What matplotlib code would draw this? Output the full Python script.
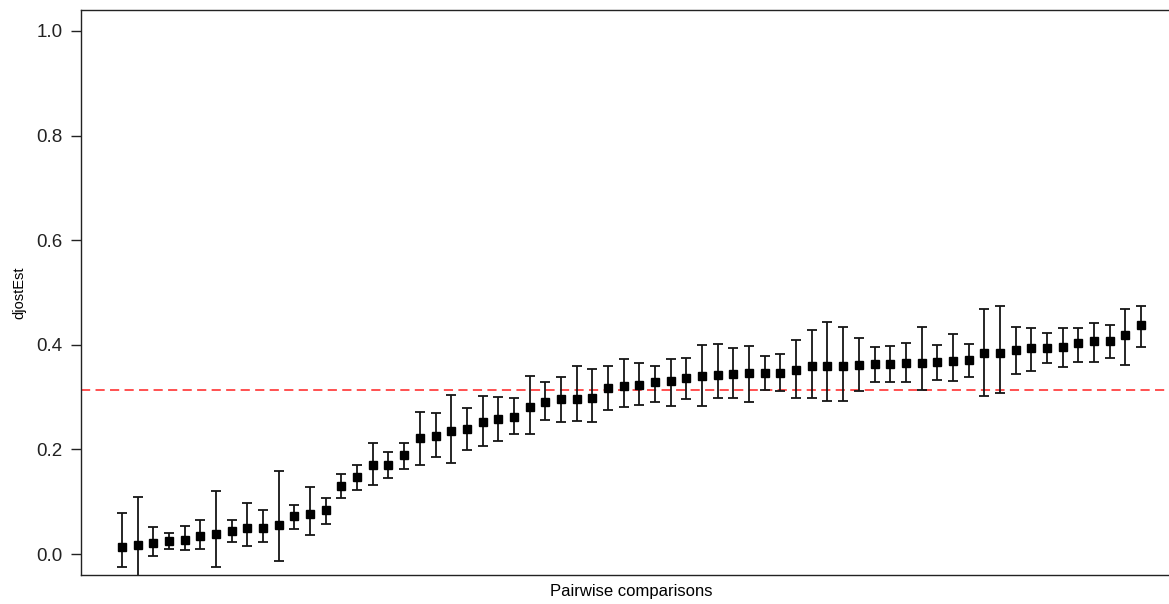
import matplotlib
matplotlib.use("Agg")
import matplotlib.pyplot as plt
import numpy as np

plt.rcParams['font.family'] = ['Liberation Sans', 'DejaVu Sans']

estimate = [0.014, 0.017, 0.022, 0.025, 0.027, 0.035, 0.038, 0.044, 0.050, 0.050,
            0.055, 0.072, 0.077, 0.084, 0.130, 0.147, 0.170, 0.170, 0.189, 0.221,
            0.225, 0.236, 0.240, 0.252, 0.259, 0.262, 0.282, 0.291, 0.296, 0.297,
            0.298, 0.318, 0.321, 0.323, 0.328, 0.331, 0.337, 0.341, 0.342, 0.345,
            0.346, 0.347, 0.347, 0.352, 0.359, 0.359, 0.359, 0.362, 0.363, 0.363,
            0.366, 0.366, 0.368, 0.370, 0.371, 0.384, 0.385, 0.390, 0.394, 0.394,
            0.396, 0.403, 0.407, 0.408, 0.418, 0.437]
upper = [0.079, 0.109, 0.052, 0.040, 0.054, 0.065, 0.120, 0.065, 0.098, 0.084,
         0.158, 0.093, 0.128, 0.107, 0.153, 0.171, 0.213, 0.195, 0.213, 0.272,
         0.269, 0.305, 0.279, 0.303, 0.301, 0.298, 0.340, 0.328, 0.338, 0.359,
         0.353, 0.359, 0.372, 0.365, 0.360, 0.372, 0.374, 0.399, 0.402, 0.393,
         0.397, 0.379, 0.383, 0.410, 0.428, 0.444, 0.434, 0.413, 0.395, 0.397,
         0.404, 0.434, 0.400, 0.420, 0.402, 0.469, 0.474, 0.434, 0.432, 0.422,
         0.432, 0.432, 0.441, 0.438, 0.469, 0.475]
lower = [-0.024, -0.060, -0.003, 0.010, 0.008, 0.010, -0.024, 0.024, 0.015, 0.024,
         -0.013, 0.048, 0.036, 0.058, 0.107, 0.123, 0.132, 0.146, 0.162, 0.171,
         0.185, 0.175, 0.199, 0.206, 0.217, 0.230, 0.230, 0.257, 0.252, 0.255,
         0.252, 0.276, 0.282, 0.285, 0.291, 0.284, 0.296, 0.284, 0.298, 0.298,
         0.291, 0.314, 0.312, 0.298, 0.298, 0.293, 0.293, 0.312, 0.328, 0.328,
         0.328, 0.314, 0.333, 0.330, 0.338, 0.303, 0.307, 0.344, 0.349, 0.365,
         0.357, 0.368, 0.368, 0.375, 0.361, 0.396]
mean_line = 0.314
y_ticks = [0.0, 0.2, 0.4, 0.6, 0.8, 1.0]
y_tick_labels = ['0.0', '0.2', '0.4', '0.6', '0.8', '1.0']

est = np.array(estimate)
up = np.array(upper)
lo = np.array(lower)
x = np.arange(1, len(est) + 1)

W, H = 1169, 604
fig = plt.figure(figsize=(W / 100, H / 100), dpi=100)
# plot region: left 81 px, right beyond the image edge (cropped), top 10, bottom 575
ax = fig.add_axes([81.2 / W, (H - 575) / H, 1100.6 / W, 565 / H])

ax.errorbar(x, est, yerr=[est - lo, up - est], fmt='none', ecolor='#151515',
            elinewidth=1.3, capsize=3.7, capthick=1.3, zorder=2)
ax.plot(x, est, linestyle='none', marker='s', markersize=5.3, color='black', zorder=3)
ax.axhline(mean_line, color='#ff2020', linestyle=(0, (6, 3.5)), linewidth=1.1, zorder=1)

n = len(est)
pad = 0.04 * (n - 1)
ax.set_xlim(1 - pad, n + pad)
ax.set_ylim(-0.04, 1.04)
ax.set_xticks([])
ax.set_yticks(y_ticks)
ax.set_yticklabels(y_tick_labels)
ax.tick_params(axis='y', length=7.2, width=1, pad=6.3, labelsize=13.5, colors='#222222')
for s in ax.spines.values():
    s.set_color('#222222')
    s.set_linewidth(1)

ax.set_ylabel('djostEst', fontsize=10.5)
ax.yaxis.label.set_verticalalignment('center')
ax.yaxis.set_label_coords((19 - 81.2) / 1100.6, 0.5)
ax.set_xlabel('Pairwise comparisons', fontsize=12, labelpad=6.5)

fig.savefig('out.png', dpi=100)
